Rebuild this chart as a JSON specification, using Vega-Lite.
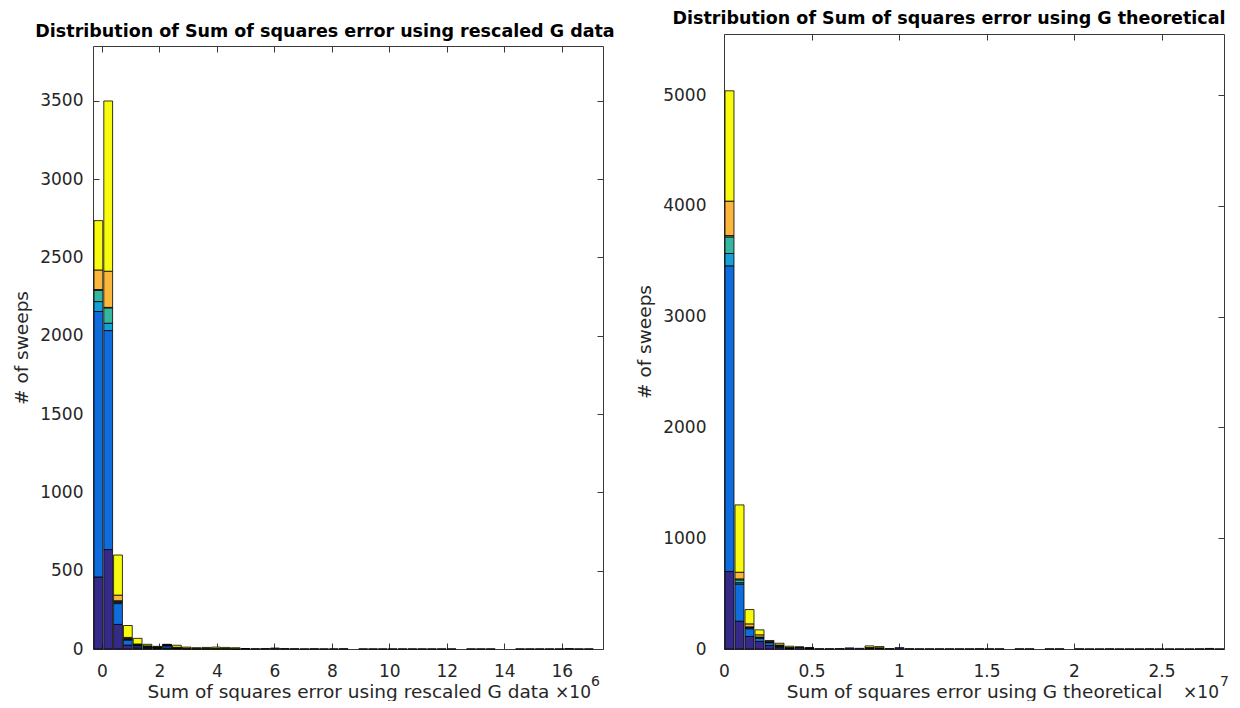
{
  "$schema": "https://vega.github.io/schema/vega-lite/v6.json",
  "padding": {"left": 12, "top": 10, "right": 0, "bottom": 0},
  "background": "white",
  "spacing": 20,
  "config": {
    "view": {"stroke": null},
    "font": "DejaVu Sans",
    "axis": {
      "grid": false,
      "domainColor": "#3a3a3a",
      "domainWidth": 1,
      "tickColor": "#3a3a3a",
      "tickSize": -6,
      "labelFontSize": 17,
      "labelColor": "#262626",
      "labelFlush": false,
      "titleFontSize": 18.5,
      "titleFontWeight": "normal",
      "titleColor": "#262626"
    },
    "title": {"fontSize": 17.5, "fontWeight": "bold", "color": "#000000", "offset": 6}
  },
  "datasets": {
    "left": [
      {"x0": -0.31, "x1": 0.031, "s1": 460, "s2": 1695, "s3": 63, "s4": 72, "s5": 5, "s6": 125, "s7": 315},
      {"x0": 0.031, "x1": 0.372, "s1": 635, "s2": 1398, "s3": 47, "s4": 98, "s5": 3, "s6": 231, "s7": 1087},
      {"x0": 0.372, "x1": 0.714, "s1": 157, "s2": 133, "s3": 8, "s4": 8, "s5": 2, "s6": 36, "s7": 256},
      {"x0": 0.714, "x1": 1.055, "s1": 25, "s2": 32, "s3": 4, "s4": 4, "s5": 3, "s6": 6, "s7": 76},
      {"x0": 1.055, "x1": 1.396, "s1": 8, "s2": 12, "s3": 3, "s4": 3, "s5": 2, "s6": 4, "s7": 36},
      {"x0": 1.396, "x1": 1.737, "s1": 6, "s2": 6, "s3": 2, "s4": 2, "s5": 1, "s6": 3, "s7": 10},
      {"x0": 1.737, "x1": 2.078, "s1": 4, "s2": 4, "s3": 1, "s4": 1, "s5": 1, "s6": 2, "s7": 4},
      {"x0": 2.078, "x1": 2.42, "s1": 6, "s2": 14, "s3": 2, "s4": 2, "s5": 2, "s6": 2, "s7": 2},
      {"x0": 2.42, "x1": 2.761, "s1": 3, "s2": 3, "s3": 1, "s4": 1, "s5": 1, "s6": 2, "s7": 13},
      {"x0": 2.761, "x1": 3.102, "s1": 2, "s2": 2, "s6": 1, "s7": 7},
      {"x0": 3.102, "x1": 3.443, "s1": 2, "s2": 1, "s6": 1, "s7": 4},
      {"x0": 3.443, "x1": 3.784, "s1": 2, "s2": 1, "s6": 1, "s7": 6},
      {"x0": 3.784, "x1": 4.126, "s1": 2, "s2": 1, "s6": 1, "s7": 8},
      {"x0": 4.126, "x1": 4.467, "s1": 2, "s6": 1, "s7": 7},
      {"x0": 4.467, "x1": 4.808, "s1": 1, "s6": 1, "s7": 6},
      {"x0": 4.808, "x1": 5.149, "s1": 2, "s7": 1},
      {"x0": 5.149, "x1": 5.49, "s1": 2},
      {"x0": 5.49, "x1": 5.832, "s1": 3},
      {"x0": 5.832, "x1": 6.173, "s1": 6},
      {"x0": 6.173, "x1": 6.514, "s1": 3},
      {"x0": 6.514, "x1": 6.855, "s1": 2},
      {"x0": 6.855, "x1": 7.196, "s1": 1},
      {"x0": 7.196, "x1": 7.538, "s1": 2},
      {"x0": 7.538, "x1": 7.879, "s1": 1},
      {"x0": 7.879, "x1": 8.22, "s1": 1},
      {"x0": 8.22, "x1": 8.561, "s1": 2},
      {"x0": 8.902, "x1": 9.244, "s1": 1},
      {"x0": 9.244, "x1": 9.585, "s1": 1},
      {"x0": 9.585, "x1": 9.926, "s1": 1},
      {"x0": 9.926, "x1": 10.267, "s1": 1},
      {"x0": 10.267, "x1": 10.608, "s1": 1},
      {"x0": 10.608, "x1": 10.95, "s1": 1},
      {"x0": 10.95, "x1": 11.291, "s1": 1},
      {"x0": 11.291, "x1": 11.632, "s1": 1},
      {"x0": 11.632, "x1": 11.973, "s1": 1},
      {"x0": 11.973, "x1": 12.314, "s1": 1},
      {"x0": 12.656, "x1": 12.997, "s1": 1},
      {"x0": 12.997, "x1": 13.338, "s1": 1},
      {"x0": 13.338, "x1": 13.679, "s1": 1},
      {"x0": 14.362, "x1": 14.703, "s1": 1},
      {"x0": 14.703, "x1": 15.044, "s1": 1},
      {"x0": 15.044, "x1": 15.385, "s1": 1},
      {"x0": 15.385, "x1": 15.726, "s1": 1},
      {"x0": 15.726, "x1": 16.068, "s1": 1},
      {"x0": 16.068, "x1": 16.409, "s1": 3},
      {"x0": 16.409, "x1": 16.75, "s1": 1},
      {"x0": 16.75, "x1": 17.091, "s1": 1}
    ],
    "right": [
      {"x0": 0, "x1": 0.0571, "s1": 700, "s2": 2760, "s3": 111, "s4": 150, "s5": 12, "s6": 311, "s7": 996},
      {"x0": 0.0571, "x1": 0.1143, "s1": 251, "s2": 336, "s3": 12, "s4": 25, "s5": 9, "s6": 60, "s7": 608},
      {"x0": 0.1143, "x1": 0.1714, "s1": 113, "s2": 70, "s3": 8, "s4": 6, "s5": 3, "s6": 27, "s7": 129},
      {"x0": 0.1714, "x1": 0.2286, "s1": 68, "s2": 30, "s3": 4, "s4": 4, "s5": 2, "s6": 20, "s7": 45},
      {"x0": 0.2286, "x1": 0.2857, "s1": 32, "s2": 25, "s3": 3, "s4": 3, "s5": 2, "s6": 4, "s7": 8},
      {"x0": 0.2857, "x1": 0.3429, "s1": 15, "s2": 12, "s3": 2, "s4": 2, "s5": 2, "s6": 3, "s7": 16},
      {"x0": 0.3429, "x1": 0.4, "s1": 6, "s2": 3, "s3": 1, "s4": 1, "s5": 1, "s6": 2, "s7": 11},
      {"x0": 0.4, "x1": 0.4571, "s1": 14, "s2": 2, "s7": 2},
      {"x0": 0.4571, "x1": 0.5143, "s1": 8, "s2": 1, "s7": 1},
      {"x0": 0.5143, "x1": 0.5714, "s1": 3},
      {"x0": 0.5714, "x1": 0.6286, "s1": 3},
      {"x0": 0.6286, "x1": 0.6857, "s1": 4},
      {"x0": 0.6857, "x1": 0.7429, "s1": 10},
      {"x0": 0.7429, "x1": 0.8, "s1": 6},
      {"x0": 0.8, "x1": 0.8571, "s1": 6, "s2": 1, "s5": 3, "s6": 3, "s7": 15},
      {"x0": 0.8571, "x1": 0.9143, "s1": 5, "s2": 1, "s5": 3, "s6": 2, "s7": 11},
      {"x0": 0.9143, "x1": 0.9714, "s1": 4},
      {"x0": 0.9714, "x1": 1.0286, "s1": 12},
      {"x0": 1.0286, "x1": 1.0857, "s1": 3},
      {"x0": 1.0857, "x1": 1.1429, "s1": 2},
      {"x0": 1.1429, "x1": 1.2, "s1": 2},
      {"x0": 1.2, "x1": 1.2571, "s1": 2},
      {"x0": 1.2571, "x1": 1.3143, "s1": 2},
      {"x0": 1.3143, "x1": 1.3714, "s1": 2},
      {"x0": 1.3714, "x1": 1.4286, "s1": 2},
      {"x0": 1.4286, "x1": 1.4857, "s1": 3},
      {"x0": 1.4857, "x1": 1.5429, "s1": 2},
      {"x0": 1.5429, "x1": 1.6, "s1": 2},
      {"x0": 1.6571, "x1": 1.7143, "s1": 2},
      {"x0": 1.7143, "x1": 1.7714, "s1": 2},
      {"x0": 1.8286, "x1": 1.8857, "s1": 2},
      {"x0": 1.8857, "x1": 1.9429, "s1": 2},
      {"x0": 2.0, "x1": 2.0571, "s1": 2},
      {"x0": 2.0571, "x1": 2.1143, "s1": 1},
      {"x0": 2.1143, "x1": 2.1714, "s1": 1},
      {"x0": 2.1714, "x1": 2.2286, "s1": 2},
      {"x0": 2.2286, "x1": 2.2857, "s1": 1},
      {"x0": 2.2857, "x1": 2.3429, "s1": 1},
      {"x0": 2.3429, "x1": 2.4, "s1": 1},
      {"x0": 2.4, "x1": 2.4571, "s1": 2},
      {"x0": 2.4571, "x1": 2.5143, "s1": 1},
      {"x0": 2.5143, "x1": 2.5714, "s1": 1},
      {"x0": 2.5714, "x1": 2.6286, "s1": 1},
      {"x0": 2.6286, "x1": 2.6857, "s1": 1},
      {"x0": 2.6857, "x1": 2.7429, "s1": 2},
      {"x0": 2.7429, "x1": 2.8, "s1": 5},
      {"x0": 2.8, "x1": 2.8571, "s1": 1}
    ]
  },
  "hconcat": [
    {
      "width": 510,
      "height": 615,
      "title": {"text": "Distribution of Sum of squares error using rescaled G data", "frame": "group", "dx": -23, "dy": 12},
      "resolve": {"axis": {"x": "independent", "y": "independent"}},
      "layer": [
        {
          "data": {"name": "left"},
          "transform": [
            {"fold": ["s1", "s2", "s3", "s4", "s5", "s6", "s7"], "as": ["series", "n"]},
            {"filter": "datum.n > 0"}
          ],
          "mark": {"type": "bar", "stroke": "#000000", "strokeWidth": 0.8},
          "encoding": {
            "x": {
              "field": "x0", "type": "quantitative", "bin": "binned",
              "scale": {"domain": [-0.31, 17.432], "nice": false, "zero": false},
              "axis": {"orient": "bottom", "values": [0, 2, 4, 6, 8, 10, 12, 14, 16], "format": "~g", "labelPadding": 20, "titlePadding": 3, "title": "Sum of squares error using rescaled G data"}
            },
            "x2": {"field": "x1"},
            "y": {
              "field": "n", "type": "quantitative", "stack": "zero",
              "scale": {"domain": [0, 3850], "nice": false, "range": [615, 12]},
              "axis": {"orient": "left", "values": [0, 500, 1000, 1500, 2000, 2500, 3000, 3500], "format": "d", "labelPadding": 16, "titlePadding": 8, "title": "# of sweeps"}
            },
            "color": {
              "field": "series", "type": "nominal", "legend": null,
              "scale": {"domain": ["s1", "s2", "s3", "s4", "s5", "s6", "s7"], "range": ["#352A87", "#0F6CDD", "#179FD8", "#35B79F", "#A5BE6A", "#FBB73C", "#F9FB0E"]}
            },
            "order": {"field": "series", "sort": "ascending"}
          }
        },
        {
          "data": {"values": [{}]},
          "mark": {"type": "point", "opacity": 0},
          "encoding": {
            "x": {"datum": 0, "type": "quantitative", "axis": {"orient": "top", "offset": -12, "labels": false, "title": null, "values": [0, 2, 4, 6, 8, 10, 12, 14, 16]}},
            "y": {"datum": 0, "type": "quantitative", "axis": {"orient": "right", "labels": false, "title": null, "values": [0, 500, 1000, 1500, 2000, 2500, 3000, 3500]}}
          }
        },
        {
          "data": {"values": [{"label": "×10"}]},
          "mark": {"type": "text", "align": "right", "baseline": "alphabetic", "dy": 49, "dx": -12, "fontSize": 17, "color": "#262626"},
          "encoding": {
            "x": {"datum": 17.432, "type": "quantitative", "axis": null},
            "y": {"datum": 0, "type": "quantitative", "axis": null},
            "text": {"field": "label"}
          }
        },
        {
          "data": {"values": [{"label": "6"}]},
          "mark": {"type": "text", "align": "left", "baseline": "alphabetic", "dy": 37, "dx": -12, "fontSize": 14, "color": "#262626"},
          "encoding": {
            "x": {"datum": 17.432, "type": "quantitative", "axis": null},
            "y": {"datum": 0, "type": "quantitative", "axis": null},
            "text": {"field": "label"}
          }
        }
      ]
    },
    {
      "width": 500,
      "height": 615,
      "title": {"text": "Distribution of Sum of squares error using G theoretical", "frame": "group", "dx": -25},
      "resolve": {"axis": {"x": "independent", "y": "independent"}},
      "layer": [
        {
          "data": {"name": "right"},
          "transform": [
            {"fold": ["s1", "s2", "s3", "s4", "s5", "s6", "s7"], "as": ["series", "n"]},
            {"filter": "datum.n > 0"}
          ],
          "mark": {"type": "bar", "stroke": "#000000", "strokeWidth": 0.8},
          "encoding": {
            "x": {
              "field": "x0", "type": "quantitative", "bin": "binned",
              "scale": {"domain": [0, 2.8571], "nice": false, "zero": false},
              "axis": {"orient": "bottom", "values": [0, 0.5, 1, 1.5, 2, 2.5], "format": "~g", "labelPadding": 20, "titlePadding": 3, "title": "Sum of squares error using G theoretical"}
            },
            "x2": {"field": "x1"},
            "y": {
              "field": "n", "type": "quantitative", "stack": "zero",
              "scale": {"domain": [0, 5553], "nice": false},
              "axis": {"orient": "left", "values": [0, 1000, 2000, 3000, 4000, 5000], "format": "d", "labelPadding": 24, "titlePadding": 8, "title": "# of sweeps"}
            },
            "color": {
              "field": "series", "type": "nominal", "legend": null,
              "scale": {"domain": ["s1", "s2", "s3", "s4", "s5", "s6", "s7"], "range": ["#352A87", "#0F6CDD", "#179FD8", "#35B79F", "#A5BE6A", "#FBB73C", "#F9FB0E"]}
            },
            "order": {"field": "series", "sort": "ascending"}
          }
        },
        {
          "data": {"values": [{}]},
          "mark": {"type": "point", "opacity": 0},
          "encoding": {
            "x": {"datum": 0, "type": "quantitative", "axis": {"orient": "top", "labels": false, "title": null, "values": [0, 0.5, 1, 1.5, 2, 2.5]}},
            "y": {"datum": 0, "type": "quantitative", "axis": {"orient": "right", "labels": false, "title": null, "values": [0, 1000, 2000, 3000, 4000, 5000]}}
          }
        },
        {
          "data": {"values": [{"label": "×10"}]},
          "mark": {"type": "text", "align": "right", "baseline": "alphabetic", "dy": 49, "dx": -5, "fontSize": 17, "color": "#262626"},
          "encoding": {
            "x": {"datum": 2.8571, "type": "quantitative", "axis": null},
            "y": {"datum": 0, "type": "quantitative", "axis": null},
            "text": {"field": "label"}
          }
        },
        {
          "data": {"values": [{"label": "7"}]},
          "mark": {"type": "text", "align": "left", "baseline": "alphabetic", "dy": 37, "dx": -4, "fontSize": 14, "color": "#262626"},
          "encoding": {
            "x": {"datum": 2.8571, "type": "quantitative", "axis": null},
            "y": {"datum": 0, "type": "quantitative", "axis": null},
            "text": {"field": "label"}
          }
        }
      ]
    }
  ]
}
